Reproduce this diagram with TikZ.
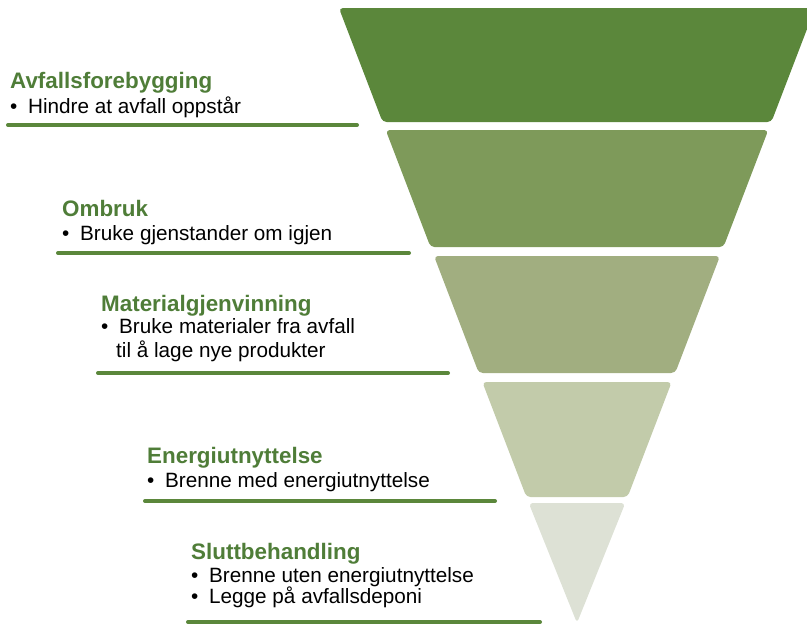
\documentclass[tikz,border=0pt]{standalone}
\usepackage{fontspec}
\setmainfont{Liberation Sans}
\definecolor{vertA}{HTML}{5B873B}
\definecolor{vertB}{HTML}{7E9A5A}
\definecolor{vertC}{HTML}{A1AE80}
\definecolor{vertD}{HTML}{C2CBAA}
\definecolor{vertE}{HTML}{DDE1D5}
\definecolor{vertTitre}{HTML}{4F7D38}
\begin{document}
\begin{tikzpicture}[x=1pt,y=-1pt]
  \tikzstyle{couche}=[rounded corners=4pt]
  \tikzstyle{titre}=[anchor=base west,inner sep=0pt,text=vertTitre,font=\fontsize{22.4}{26}\selectfont\bfseries]
  \tikzstyle{puce}=[anchor=base west,inner sep=0pt,font=\fontsize{20.7}{24}\selectfont]
  \tikzstyle{trait}=[line width=4pt,vertA,line cap=round]
  \clip (0,0) rectangle (807,625);
  % la pyramide
  \fill[couche,vertA] (338.9,8) -- (815.1,8) -- (771.4,122) -- (382.6,122) -- cycle;
  \fill[couche,vertB] (385.7,130) -- (768.3,130) -- (723.5,247) -- (430.5,247) -- cycle;
  \fill[couche,vertC] (434,256) -- (720,256) -- (675.2,373) -- (478.8,373) -- cycle;
  \fill[couche,vertD] (482.3,382) -- (671.7,382) -- (627.6,497) -- (526.4,497) -- cycle;
  \fill[couche,vertE] (528.7,503) -- (625.3,503) -- (577,623) -- cycle;
  % les textes
  \node[titre] (h1) at (10,88) {Avfallsforebygging};
  \node[puce] (b1) at (10,113) {\makebox[18pt][l]{\textbullet}Hindre at avfall oppstår};
  \draw[trait] (8,125) -- (357,125);
  \node[titre] (h2) at (62,216) {Ombruk};
  \node[puce] (b2) at (62,240) {\makebox[18pt][l]{\textbullet}Bruke gjenstander om igjen};
  \draw[trait] (58,253) -- (409,253);
  \node[titre] (h3) at (101,311) {Materialgjenvinning};
  \node[puce] (b3a) at (101,333) {\makebox[18pt][l]{\textbullet}Bruke materialer fra avfall};
  \node[puce] (b3b) at (116,357) {til å lage nye produkter};
  \draw[trait] (98,373) -- (448,373);
  \node[titre] (h4) at (147,463) {Energiutnyttelse};
  \node[puce] (b4) at (147,487) {\makebox[18pt][l]{\textbullet}Brenne med energiutnyttelse};
  \draw[trait] (145,501) -- (495,501);
  \node[titre] (h5) at (191,559) {Sluttbehandling};
  \node[puce] (b5a) at (191,582) {\makebox[18pt][l]{\textbullet}Brenne uten energiutnyttelse};
  \node[puce] (b5b) at (191,603) {\makebox[18pt][l]{\textbullet}Legge på avfallsdeponi};
  \draw[trait] (188,622) -- (540,622);
\end{tikzpicture}
\end{document}
